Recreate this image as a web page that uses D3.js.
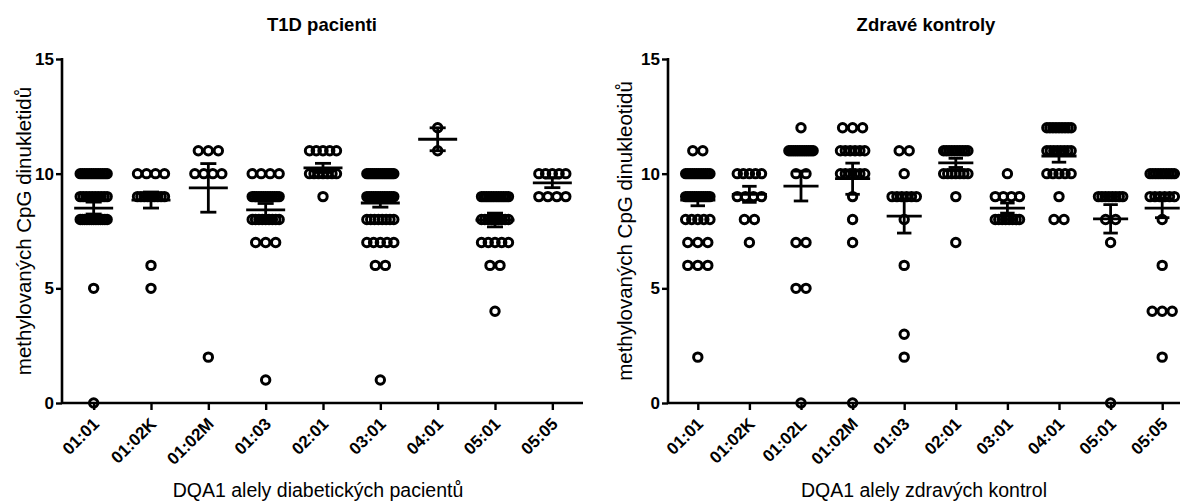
<!DOCTYPE html>
<html><head><meta charset="utf-8">
<script src="https://cdn.jsdelivr.net/npm/d3@7/dist/d3.min.js"></script>
<style>
body{margin:0;background:#fff;}
text{font-family:"Liberation Sans",Arial,sans-serif;fill:#000;}
</style></head>
<body><svg id="c" width="1180" height="502"></svg>
<script>
// ---- data ----
const leftTitle = "T1D pacienti";
const rightTitle = "Zdravé kontroly";
const leftYLabel = "methylovaných CpG dinukletidů";
const rightYLabel = "methylovaných CpG dinukleotidů";
const leftXLabel = "DQA1 alely diabetických pacientů";
const rightXLabel = "DQA1 alely zdravých kontrol";
const yTicks = [0, 5, 10, 15];

const leftCategories = ["01:01","01:02K","01:02M","01:03","02:01","03:01","04:01","05:01","05:05"];
// [value, count] per allele
const leftPoints = [
  [[10,13],[9,10],[8,13],[5,1],[0,1]],
  [[10,4],[9,9],[6,1],[5,1]],
  [[11,3],[10,4],[2,1]],
  [[10,4],[9,13],[8,9],[7,3],[1,1]],
  [[11,5],[10,7],[9,1]],
  [[10,15],[9,13],[8,8],[7,5],[6,2],[1,1]],
  [[12,1],[11,1]],
  [[9,12],[8,9],[7,5],[6,2],[4,1]],
  [[10,5],[9,4]]
];
const leftMeans = [8.5, 8.85, 9.38, 8.42, 10.25, 8.72, 11.5, 7.98, 9.6];
const leftSEM   = [0.26, 0.35, 1.06, 0.28, 0.2, 0.18, 0.5, 0.3, 0.21];

const rightCategories = ["01:01","01:02K","01:02L","01:02M","01:03","02:01","03:01","04:01","05:01","05:05"];
const rightPoints = [
  [[11,2],[10,12],[9,12],[8,5],[7,3],[6,3],[2,1]],
  [[10,5],[9,4],[8,2],[7,1]],
  [[12,1],[11,12],[10,2],[7,2],[5,2],[0,1]],
  [[12,3],[11,6],[10,6],[9,1],[8,1],[7,1],[0,1]],
  [[11,2],[10,1],[9,6],[8,1],[6,1],[3,1],[2,1]],
  [[11,10],[10,7],[9,1],[7,1]],
  [[10,1],[9,4],[8,8]],
  [[12,9],[11,8],[10,5],[9,1],[8,2]],
  [[9,8],[8,2],[7,1],[0,1]],
  [[10,10],[9,6],[8,1],[6,1],[4,3],[2,1]]
];
const rightMeans = [8.85, 9.1, 9.46, 9.78, 8.15, 10.47, 8.5, 10.77, 8.03, 8.5];
const rightSEM   = [0.25, 0.35, 0.65, 0.68, 0.74, 0.2, 0.22, 0.27, 0.62, 0.42];

// ---- drawing ----
const svg = d3.select("#c");
const y0 = 403, y1 = 59;

function panel(cfg){
  const g = svg.append("g");
  const x = d3.scalePoint().domain(cfg.cats).range([cfg.x0, cfg.x1]).padding(0.5);
  const y = d3.scaleLinear().domain([0,15]).range([y0, y1]);
  const step = x.step();

  const pts = [];
  cfg.points.forEach((grp,i)=>{
    grp.forEach(([v,n])=>{
      const sp = n>1 ? Math.min(10, step*0.47/(n-1)) : 0;
      for(let k=0;k<n;k++) pts.push({c:cfg.cats[i], v, off:(k-(n-1)/2)*sp});
    });
  });

  const ya = g.append("g").attr("transform",`translate(${cfg.axisX},0)`)
    .call(d3.axisLeft(y).tickValues(yTicks).tickSize(6).tickPadding(2));
  ya.select(".domain").attr("d",`M0,${y0}V${y1-1}`).attr("stroke","#000").attr("stroke-width",2.6);
  ya.selectAll(".tick line").attr("stroke","#000").attr("stroke-width",2.4);
  ya.selectAll(".tick text").attr("font-size",null).attr("font-family",null)
    .style("font-size","17px").style("font-weight","bold");

  const xa = g.append("g").attr("transform",`translate(0,${y0})`)
    .call(d3.axisBottom(x).tickSize(7).tickPadding(6));
  xa.select(".domain").attr("d",`M${cfg.axisX},0H${cfg.axisEnd}`).attr("stroke","#000").attr("stroke-width",2.6);
  xa.selectAll(".tick line").attr("stroke","#000").attr("stroke-width",2.4);
  xa.selectAll(".tick text").attr("font-size",null).attr("font-family",null)
    .style("font-size","17px").style("font-weight","bold")
    .attr("text-anchor","end").attr("dy",null).attr("y",null)
    .attr("transform","translate(6,22) rotate(-45)");

  g.append("g").selectAll("circle").data(pts).join("circle")
    .attr("cx",d=>x(d.c)+d.off).attr("cy",d=>y(d.v)).attr("r",4.2)
    .attr("fill","none").attr("stroke","#000").attr("stroke-width",3);

  const eb = g.append("g").attr("stroke","#000").attr("stroke-width",2.8).attr("fill","none");
  cfg.cats.forEach((c,i)=>{
    const cx = x(c), m = cfg.means[i], s = cfg.sem[i];
    const mw = step*0.34, cw = step*0.14;
    eb.append("line").attr("x1",cx-mw).attr("x2",cx+mw).attr("y1",y(m)).attr("y2",y(m));
    eb.append("line").attr("x1",cx).attr("x2",cx).attr("y1",y(m-s)).attr("y2",y(m+s));
    eb.append("line").attr("x1",cx-cw).attr("x2",cx+cw).attr("y1",y(m+s)).attr("y2",y(m+s));
    eb.append("line").attr("x1",cx-cw).attr("x2",cx+cw).attr("y1",y(m-s)).attr("y2",y(m-s));
  });

  g.append("text").attr("x",cfg.titleX).attr("y",31).attr("text-anchor","middle")
    .style("font-size","18.5px").style("font-weight","bold").text(cfg.title);
  g.append("text").attr("transform",`translate(${cfg.ylabX},231) rotate(-90)`).attr("text-anchor","middle")
    .style("font-size","20.5px").text(cfg.ylab);
  g.append("text").attr("x",cfg.xlabX).attr("y",497).attr("text-anchor","middle")
    .style("font-size","19.5px").text(cfg.xlab);
}

panel({cats:leftCategories, points:leftPoints, means:leftMeans, sem:leftSEM,
  x0:65, x1:581, axisX:62, axisEnd:583, title:leftTitle, titleX:322,
  ylab:leftYLabel, ylabX:31, xlab:leftXLabel, xlabX:318});
panel({cats:rightCategories, points:rightPoints, means:rightMeans, sem:rightSEM,
  x0:672, x1:1188, axisX:668, axisEnd:1190, title:rightTitle, titleX:926,
  ylab:rightYLabel, ylabX:632, xlab:rightXLabel, xlabX:924});
</script></body></html>
